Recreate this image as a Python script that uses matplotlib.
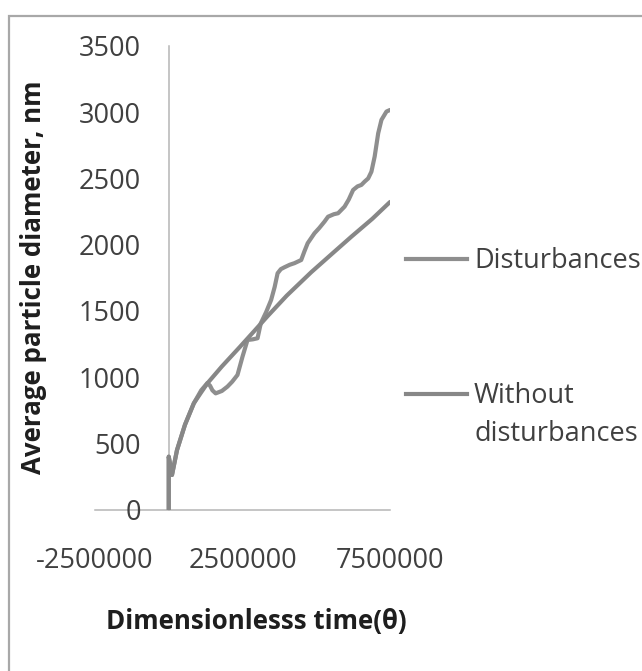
import matplotlib
matplotlib.use("Agg")
import matplotlib.pyplot as plt
from matplotlib.lines import Line2D
from matplotlib.patches import Rectangle

plt.rcParams['font.family'] = ['Open Sans', 'DejaVu Sans']
plt.rcParams['axes.unicode_minus'] = False

# ---- data ----
dist_x = [0, 0, 110000, 280000, 550000, 850000, 1100000, 1310000, 1400000, 1480000,
          1590000, 1800000, 1990000, 2150000, 2330000, 2500000, 2670000, 2850000,
          3010000, 3120000, 3300000, 3470000, 3590000, 3690000, 3800000, 3920000,
          4100000, 4260000, 4490000, 4600000, 4710000, 4940000, 5100000, 5280000,
          5400000, 5600000, 5740000, 5960000, 6100000, 6250000, 6400000, 6530000,
          6640000, 6760000, 6870000, 6980000, 7100000, 7210000, 7380000, 7500000]
dist_y = [0, 399, 261, 449, 640, 802, 900, 955, 935, 900,
          877, 895, 928, 965, 1016, 1154, 1280, 1285,
          1293, 1406, 1490, 1582, 1680, 1784, 1815, 1829,
          1848, 1860, 1884, 1950, 2011, 2086, 2125, 2174,
          2211, 2230, 2237, 2287, 2340, 2413, 2440, 2451,
          2476, 2500, 2551, 2665, 2841, 2942, 3005, 3017]

nodist_x = [0, 0, 110000, 280000, 550000, 850000, 1100000, 1310000, 1800000,
            2400000, 2900000, 3350000, 4000000, 4830000, 5590000, 6190000, 6900000, 7500000]
nodist_y = [0, 399, 261, 449, 640, 802, 885, 953, 1080,
            1225, 1348, 1460, 1615, 1792, 1942, 2060, 2195, 2322]

series_labels = ["Disturbances", "Without\ndisturbances"]
xticks = [-2500000, 2500000, 7500000]
yticks = [0, 500, 1000, 1500, 2000, 2500, 3000, 3500]

# ---- layout ----
W, H = 642, 671
fig = plt.figure(figsize=(W / 100, H / 100), dpi=100)
fx = lambda px: px / W
fy = lambda py: 1 - py / H

ax = fig.add_axes([fx(95), fy(509.5), (390 - 95) / W, (509.5 - 46) / H])

line_col_d = '#8e8e8e'
line_col_n = '#878787'
ax.plot(dist_x, dist_y, color=line_col_d, lw=3.0, solid_joinstyle='round', solid_capstyle='round')
ax.plot(nodist_x, nodist_y, color=line_col_n, lw=3.0, solid_joinstyle='round', solid_capstyle='round')

ax.set_xlim(-2500000, 7500000)
ax.set_ylim(0, 3500)
ax.set_xticks(xticks)
ax.set_xticklabels([str(v) for v in xticks])
ax.set_yticks(yticks)
ax.set_yticklabels([str(v) for v in yticks])

for s in ['top', 'right']:
    ax.spines[s].set_visible(False)
ax.spines['left'].set_position(('data', 0))
for s in ['left', 'bottom']:
    ax.spines[s].set_color('#b5b5b5')
    ax.spines[s].set_linewidth(1.1)
ax.spines['left'].set_zorder(0)
ax.spines['bottom'].set_zorder(0)

ax.tick_params(axis='y', length=0, pad=20, labelsize=19.5, labelcolor='#404040')
ax.tick_params(axis='x', length=0, pad=27, labelsize=19.5, labelcolor='#404040')
ax.patch.set_alpha(0)

ax.set_ylabel("Average particle diameter, nm", fontsize=18.6, fontweight='bold', color='#1e1e1e')
ax.yaxis.set_label_coords((47 - 95) / 295, 0.5)
ax.set_xlabel("Dimensionlesss time(\u03b8)", fontsize=18.6, fontweight='bold', color='#1e1e1e')
ax.xaxis.set_label_coords((256 - 95) / 295, (509.5 - 608) / 463.5)

# ---- legend (drawn at right, as in reference) ----
fig.add_artist(Line2D([fx(406), fx(467)], [fy(258.5), fy(258.5)], color=line_col_d, lw=3.0))
fig.text(fx(474), fy(268), series_labels[0], fontsize=19.5, color='#404040', va='baseline', ha='left')
fig.add_artist(Line2D([fx(406), fx(467)], [fy(393.5), fy(393.5)], color=line_col_n, lw=3.0))
fig.text(fx(474), fy(382.4), series_labels[1], fontsize=19.5, color='#404040', va='top', ha='left',
         linespacing=1.45)

# ---- outer frame ----
fig.add_artist(Rectangle((fx(9), fy(720)), 1.2, fy(16) - fy(720), transform=fig.transFigure,
                         fill=False, edgecolor='#a8a8a8', lw=1.6))

fig.savefig("out.png", dpi=100, facecolor='white')
